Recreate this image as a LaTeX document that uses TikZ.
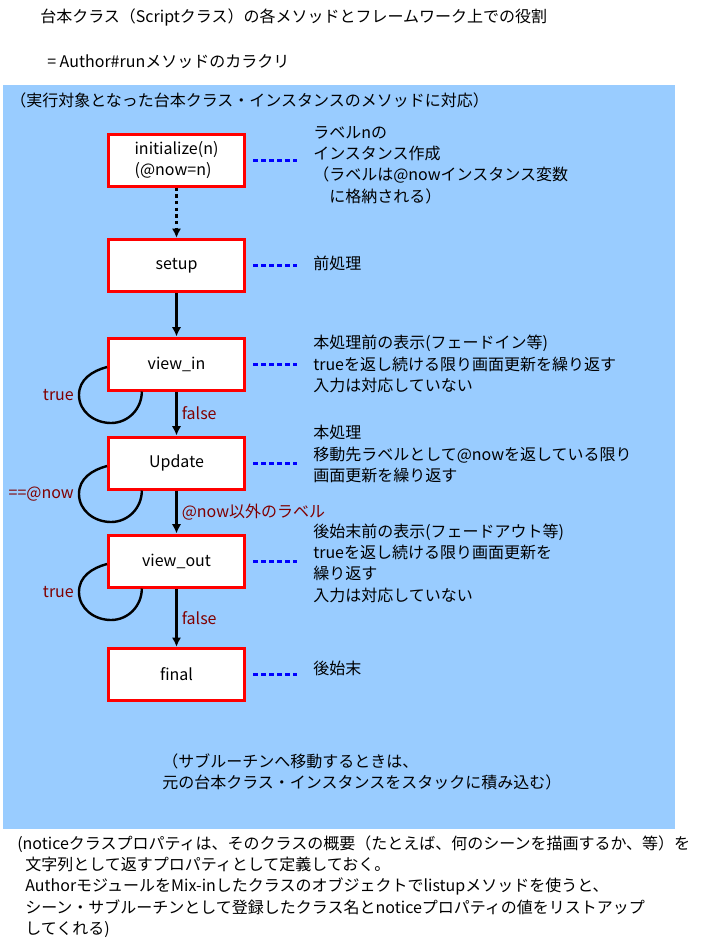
\documentclass[tikz,border=0pt]{standalone}
\usepackage{fontspec}
\setmainfont{Noto Sans CJK JP}
\usepackage{tikz}
\usetikzlibrary{shapes,arrows,arrows.meta,positioning,calc}
\definecolor{panelblue}{HTML}{99CCFF}
\definecolor{lblred}{HTML}{800000}
\tikzstyle{method} = [draw=red, line width=2.25pt, fill=white, rectangle, minimum height=39pt, minimum width=102pt]
\tikzstyle{desc} = [anchor=west, align=left, inner sep=0pt]
\tikzstyle{lbl} = [text=lblred, inner sep=3pt]
\tikzstyle{flow} = [->, line width=2pt]
\tikzstyle{dotline} = [blue, line width=2.25pt, dash pattern=on 3.4pt off 2.6pt, shorten <=5.25pt, shorten >=12pt]
\tikzstyle{loopline} = [line width=1.8pt]

\begin{document}
\begin{tikzpicture}[x=0.75pt, y=-0.75pt, auto, >={Latex[length=7pt,width=7pt]}, font=\fontsize{12pt}{16pt}\selectfont]
    \useasboundingbox (0,0) rectangle (706,951);
    % Panel
    \fill[panelblue] (3,85) rectangle (675,829);
    \node [desc] (title) at (40,17) {台本クラス（Scriptクラス）の各メソッドとフレームワーク上での役割};
    \node [desc] (subtitle) at (47,62) {= Author\#runメソッドのカラクリ};
    \node [desc] (panelhead) at (10,100) {（実行対象となった台本クラス・インスタンスのメソッドに対応）};

    % Methods
    \node [method, align=left] (init) at (176.5,160) {initialize(n)\\(@now=n)};
    \node [method, below of=init, node distance=79pt] (setup) {setup};
    \node [method, below of=setup, node distance=74pt] (vin) {view\_in};
    \node [method, below of=vin, node distance=74.25pt] (upd) {Update};
    \node [method, below of=upd, node distance=73.5pt] (vout) {view\_out};
    \node [method, below of=vout, node distance=85pt] (final) {final};

    % Descriptions
    \node [desc] (initd) at (313,165) {ラベルnの\\インスタンス作成\\（ラベルは@nowインスタンス変数\\　に格納される）};
    \node [desc] (setupd) at (313,263) {前処理};
    \node [desc] (vind) at (313,364) {本処理前の表示(フェードイン等)\\trueを返し続ける限り画面更新を繰り返す\\入力は対応していない};
    \node [desc] (updd) at (313,454) {本処理\\移動先ラベルとして@nowを返している限り\\画面更新を繰り返す};
    \node [desc] (voutd) at (313,563) {後始末前の表示(フェードアウト等)\\trueを返し続ける限り画面更新を\\繰り返す\\入力は対応していない};
    \node [desc] (finald) at (313,668) {後始末};

    % Notes
    \node [desc] (stacknote) at (162,772) {（サブルーチンへ移動するときは、\\元の台本クラス・インスタンスをスタックに積み込む）};
    \node [desc] (noticenote) at (17,886.5) {(noticeクラスプロパティは、そのクラスの概要（たとえば、何のシーンを描画するか、等）を\\
        \hspace*{6pt}文字列として返すプロパティとして定義しておく。\\
        \hspace*{6pt}AuthorモジュールをMix-inしたクラスのオブジェクトでlistupメソッドを使うと、\\
        \hspace*{6pt}シーン・サブルーチンとして登録したクラス名とnoticeプロパティの値をリストアップ\\
        \hspace*{6pt}してくれる)};

    % Connections
    \draw [flow, dash pattern=on 2.5pt off 2.5pt] (init) -- (setup);
    \draw [flow] (setup) -- (vin);
    \draw [flow] (vin) -- node [lbl, right] {false} (upd);
    \draw [flow] (upd) -- node [lbl, right] {@now以外のラベル} (vout);
    \draw [flow] (vout) -- node [lbl, right] {false} (final);
    \foreach \m/\d in {init/initd, setup/setupd, vin/vind, upd/updd, vout/voutd, final/finald}
        \draw [dotline] (\m.east) -- (\m.east -| \d.west);
    \foreach \m/\t in {vin/true, upd/==@now, vout/true}
        \draw [loopline] ([yshift=-2.25pt]\m.west) to[out=195,in=90] ++(-28,28) node [lbl, left] {\t}
            to[out=-90,in=180] ++(32,28) to[out=0,in=-90] ([xshift=-26pt]\m.south);
\end{tikzpicture}
\end{document}
